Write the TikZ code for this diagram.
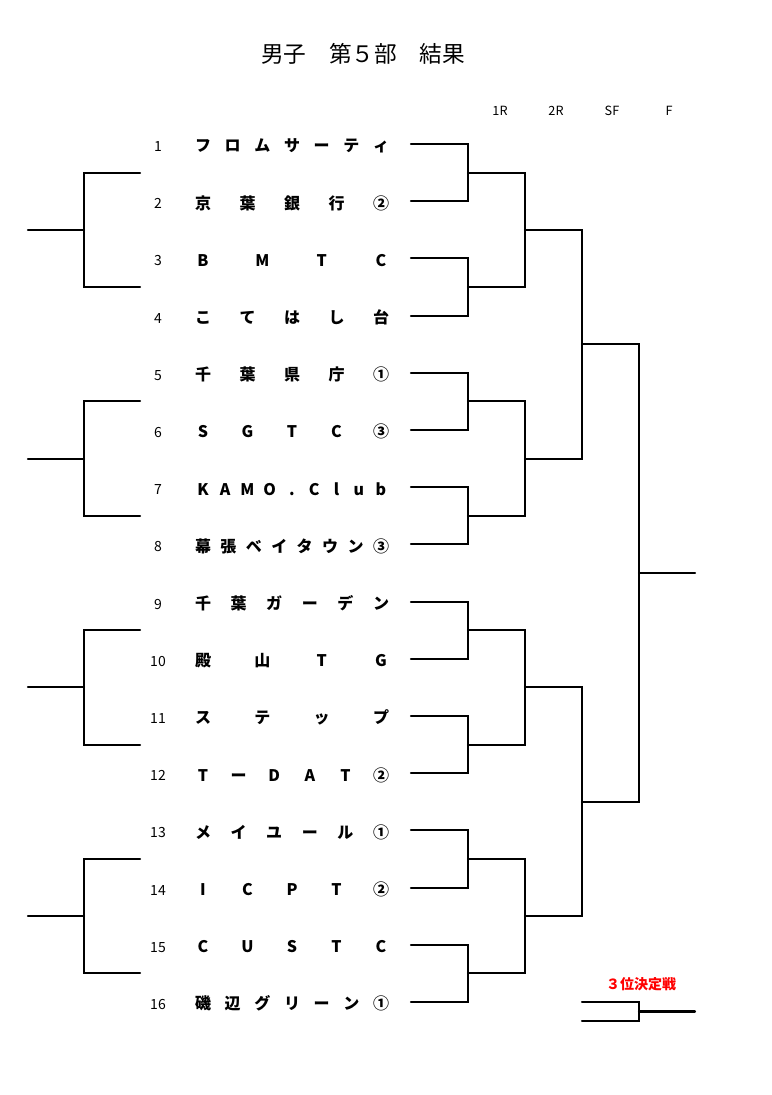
\documentclass[tikz,border=0pt]{standalone}
\usepackage{fontspec}
\setmainfont{Noto Sans CJK JP}
\tikzset{
	bline/.style={line width=1.6pt, line cap=round, line join=miter},
	numlbl/.style={inner sep=0pt, font=\fontsize{10.5}{12}\selectfont},
	teamlbl/.style={inner sep=0pt, text height=10pt, text depth=2pt, font=\fontsize{12}{14}\bfseries\selectfont},
	roundlbl/.style={inner sep=0pt, font=\fontsize{9.5}{11}\selectfont},
	titlelbl/.style={inner sep=0pt, font=\fontsize{17}{20}\selectfont},
	thirdlbl/.style={inner sep=0pt, text=red, font=\fontsize{10.5}{12}\bfseries\selectfont}
}
\begin{document}
\begin{tikzpicture}[x=0.75pt, y=-0.75pt]
	\useasboundingbox (0,0) rectangle (771,1095);
	
	% Title and rounds
	\node[titlelbl] (title) at (363,54) {男子　第５部　結果};
	\node[roundlbl] (h1) at (500,111) {1R};
	\node[roundlbl] (h2) at (556,111) {2R};
	\node[roundlbl] (h3) at (612,111) {SF};
	\node[roundlbl] (h4) at (669,111) {F};
	
	% Teams
	\foreach \i/\n/\t in {
		1/7/{フ,ロ,ム,サ,ー,テ,ィ},
		2/5/{京,葉,銀,行,②},
		3/4/{B,M,T,C},
		4/5/{こ,て,は,し,台},
		5/5/{千,葉,県,庁,①},
		6/5/{S,G,T,C,③},
		7/9/{K,A,M,O,.,C,l,u,b},
		8/8/{幕,張,ベ,イ,タ,ウ,ン,③},
		9/6/{千,葉,ガ,ー,デ,ン},
		10/4/{殿,山,T,G},
		11/4/{ス,テ,ッ,プ},
		12/6/{T,ー,D,A,T,②},
		13/6/{メ,イ,ユ,ー,ル,①},
		14/5/{I,C,P,T,②},
		15/5/{C,U,S,T,C},
		16/7/{磯,辺,グ,リ,ー,ン,①}} {
		\pgfmathsetmacro{\y}{144+(\i-1)*57.2}
		\pgfmathsetmacro{\ty}{\y+2.5}
		\node[numlbl] (n\i) at (158,\ty) {\i};
		\coordinate (s\i) at (411,\y);
		\foreach \c [count=\k from 0] in \t {
			\pgfmathsetmacro{\x}{203+\k*178/(\n-1)}
			\node[teamlbl] (t\i-\k) at (\x,\ty) {\c};
		}
	}
	
	% Match points
	\foreach \j in {1,...,8} {
		\pgfmathsetmacro{\y}{144+(2*\j-1.5)*57.2}
		\coordinate (a\j) at (468,\y);
		\coordinate (la\j) at (140,\y);
	}
	\foreach \j in {1,...,4} {
		\pgfmathsetmacro{\y}{144+(4*\j-2.5)*57.2}
		\coordinate (b\j) at (525,\y);
		\coordinate (lb\j) at (84,\y);
		\coordinate (le\j) at (28,\y);
	}
	\coordinate (c1) at (582,{144+3.5*57.2});
	\coordinate (c2) at (582,{144+11.5*57.2});
	\coordinate (f) at (639,{144+7.5*57.2});
	\coordinate (champ) at (695,{144+7.5*57.2});
	
	% Edges
	\foreach \j in {1,...,8} {
		\pgfmathtruncatemacro{\p}{2*\j-1}
		\pgfmathtruncatemacro{\q}{2*\j}
		\draw[bline] (s\p) -| (a\j) |- (s\q);
	}
	\foreach \j in {1,...,4} {
		\pgfmathtruncatemacro{\p}{2*\j-1}
		\pgfmathtruncatemacro{\q}{2*\j}
		\draw[bline] (a\p) -| (b\j) |- (a\q);
		\draw[bline] (la\p) -| (lb\j) |- (la\q);
		\draw[bline] (lb\j) -- (le\j);
	}
	\draw[bline] (b1) -| (c1) |- (b2);
	\draw[bline] (b3) -| (c2) |- (b4);
	\draw[bline] (c1) -| (f) |- (c2);
	\draw[bline] (f) -- (champ);
	
	% Third place
	\node[thirdlbl] (third) at (641,984) {３位決定戦};
	\coordinate (p1) at (582,1002);
	\coordinate (p2) at (582,1021);
	\coordinate (pm) at (639,1011.5);
	\coordinate (pe) at (695,1011.5);
	\draw[bline] (p1) -| (pm) |- (p2);
	\draw[bline] (pm) -- (pe);
\end{tikzpicture}
\end{document}
